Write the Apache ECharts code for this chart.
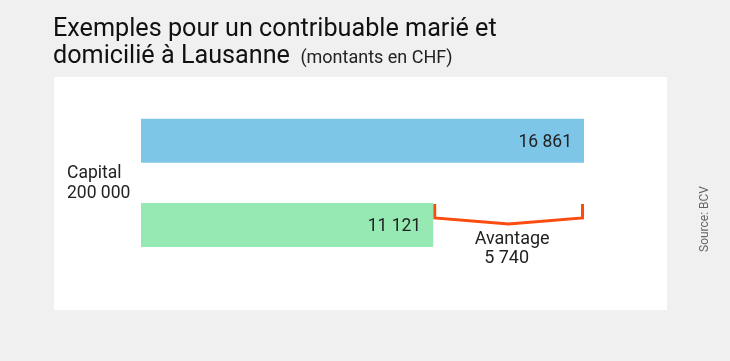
<!DOCTYPE html>
<html><head><meta charset="utf-8">
<script src="https://cdn.jsdelivr.net/npm/echarts@6/dist/echarts.min.js"></script>
<style>html,body{margin:0;padding:0;background:#f0f0f0;}#c{width:730px;height:361px;}</style>
</head><body><div id="c"></div>
<script>
var categories = ['Sans', 'Avec'];
var values = [16861, 11121];
var barColors = ['#7dc6e8', '#97e9b3'];
var advantage = [11121, 16861];
var advantageTitle = 'Avantage';
var advantageValue = '5 740';
var capitalLabel = 'Capital\n200 000';
var titleLine1 = 'Exemples pour un contribuable marié et';
var titleLine2 = 'domicilié à Lausanne';
var titleSub = '(montants en CHF)';
var sourceText = 'Source: BCV';

function fmt(v){ return String(v).replace(/\B(?=(\d{3})+(?!\d))/g, ' '); }

var chart = echarts.init(document.getElementById('c'), null, {renderer:'canvas'});
var font = 'Roboto';
var option = {
  backgroundColor: '#f0f0f0',
  animation: false,
  textStyle: {fontFamily: font},
  title: [{
    left: 53, top: 16, padding: 0,
    text: '{a|' + titleLine1 + '}\n{a|' + titleLine2 + '}{b| ' + titleSub + '}',
    textStyle: {
      rich: {
        a: {fontFamily: font, fontSize: 25.2, fontWeight: 'normal', color: '#111', lineHeight: 27},
        b: {fontFamily: font, fontSize: 18, fontWeight: 'normal', color: '#222', lineHeight: 27, padding:[3,0,0,6]}
      }
    }
  }, {
    left: 67, top: 164, padding: 0,
    text: capitalLabel,
    textStyle: {fontFamily: font, fontSize: 17.5, fontWeight: 'normal', color: '#222', lineHeight: 20}
  }],
  graphic: [{
    type: 'rect', z: -10, silent: true,
    shape: {x: 54, y: 77, width: 613, height: 233},
    style: {fill: '#ffffff'}
  }, {
    type: 'text', x: 705, y: 219, rotation: Math.PI/2,
    style: {text: sourceText, fontFamily: font, fontSize: 12, fill: '#666', align: 'center', verticalAlign: 'middle'}
  }],
  grid: {left: 141, right: 63.5, top: 98.6, bottom: 93.9, containLabel: false},
  xAxis: {type: 'value', min: 0, max: 20000, show: false},
  yAxis: {type: 'category', data: categories, inverse: true, show: false},
  series: [{
    type: 'bar', barWidth: 44,
    data: values.map(function(v, i){ return {value: v, itemStyle: {color: barColors[i]}}; }),
    label: {show: true, position: 'insideRight', distance: 12, fontFamily: font, fontSize: 17.5, color: '#222',
      formatter: function(p){ return fmt(p.value); }, offset:[0,2]}
  }, {
    type: 'custom',
    data: [[advantage[0], advantage[1], 1]],
    renderItem: function(params, api){
      var a = api.coord([api.value(0), api.value(2)]);
      var b = api.coord([api.value(1), api.value(2)]);
      var top = a[1] - 21;
      var y1 = a[1] - 7;
      var mid = (a[0] + b[0]) / 2;
      return {
        type: 'group',
        children: [{
          type: 'polyline',
          shape: {points: [[a[0]+1.5, top], [a[0]+1.5, y1], [mid, y1+6], [b[0]-1.5, y1], [b[0]-1.5, top]]},
          style: {stroke: '#fb4b0e', lineWidth: 3, fill: null}
        }, {
          type: 'text',
          x: mid + 3.5, y: a[1] + 5,
          style: {text: advantageTitle, fontFamily: font, fontSize: 18, fill: '#222', align: 'center', verticalAlign: 'top', lineHeight: 19}
        }, {
          type: 'text',
          x: mid - 2, y: a[1] + 24,
          style: {text: advantageValue, fontFamily: font, fontSize: 18, fill: '#222', align: 'center', verticalAlign: 'top', lineHeight: 19}
        }]
      };
    }
  }]
};
chart.setOption(option);
</script></body></html>
